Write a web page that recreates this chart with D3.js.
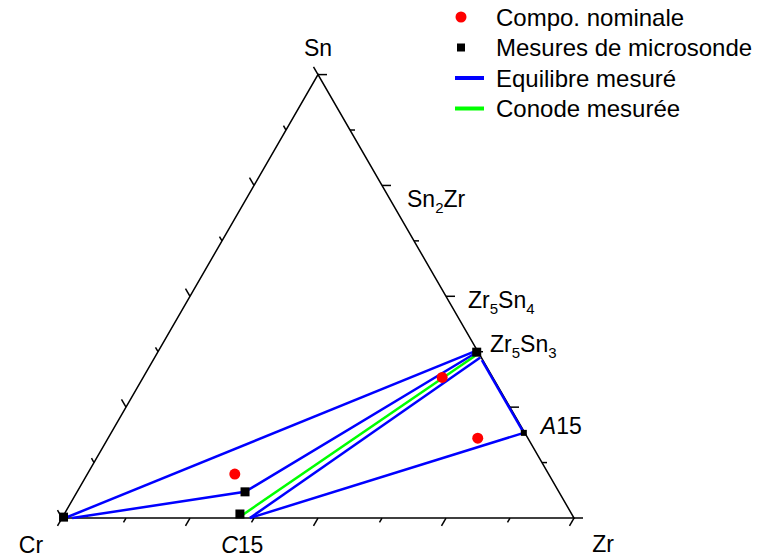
<!DOCTYPE html>
<html><head><meta charset="utf-8">
<script src="https://cdn.jsdelivr.net/npm/d3@7"></script>
<style>body{margin:0;background:#fff}svg{display:block}text{font-family:"Liberation Sans",Arial,sans-serif;fill:#000}</style>
</head><body>
<script>
// Ternary coordinates given as [Zr fraction, Sn fraction] (Cr = remainder)
const vertexNames = ["Cr","Zr","Sn"];
const tickFractions = [0,0.125,0.25,0.375,0.5,0.625,0.75,0.875,1];
const nominal = [ [0.288,0.099], [0.584,0.317], [0.722,0.180] ];
const microprobe = [ [0.002,0.002], [0.343,0.009], [0.328,0.059], [0.623,0.374], [0.806,0.192] ];
const equilibrium = [
  [[0.006,0.0],[0.620,0.377]],
  [[0.020,0.0],[0.328,0.059],[0.622,0.372]],
  [[0.367,0.0],[0.636,0.362]],
  [[0.367,0.0],[0.806,0.192]],
  [[0.642,0.356],[0.806,0.192]]
];
const tieLine = [[0.350,0.008],[0.627,0.370]];
// phase labels placed next to the right-axis tick of given Sn fraction
const phaseNames = [["Sn","2","Zr",""],["Zr","5","Sn","4"],["Zr","5","Sn","3"]];
const phaseSn = [0.75, 0.5, 0.375];
const legendLabels = ["Compo. nominale","Mesures de microsonde","Equilibre mesuré","Conode mesurée"];
const legendTypes = ["circle","square","line","line"];
const legendColors = ["#ff0000","#000000","#0000ff","#00ff00"];

const W=757,H=558;
const svg=d3.select("body").append("svg").attr("width",W).attr("height",H);
const h=Math.sqrt(3)/2;
const xs=d3.scaleLinear().domain([0,1]).range([62,574]);
const ys=d3.scaleLinear().domain([0,h]).range([518,518-512*h]);
const P=(zr,sn)=>[xs(zr+sn/2), ys(sn*h)];

// axes
const g=svg.append("g");
const tri=[P(0,0),P(1,0),P(0,1)];
g.append("path").attr("d","M"+tri.map(p=>p.join(",")).join("L")+"Z")
 .attr("fill","none").attr("stroke","#000").attr("stroke-width",1.5);
function tick(p,dir,len){
  g.append("line").attr("x1",p[0]).attr("y1",p[1]).attr("x2",p[0]+dir[0]*len).attr("y2",p[1]+dir[1]*len)
   .attr("stroke","#000").attr("stroke-width",1.5);
}
tickFractions.forEach((f,i)=>{
  const len = i%2===0 ? 9 : 5;
  tick(P(f,0),[-0.5,0.866],len);          // bottom: Zr
  tick(P(1-f,f),[1,0],len);               // right: Sn
  tick(P(0,1-f),[-0.5,-0.866],len);       // left: Cr
});

// lines
const line=d3.line().x(d=>P(d[0],d[1])[0]).y(d=>P(d[0],d[1])[1]);
equilibrium.forEach(seg=>{
  svg.append("path").attr("d",line(seg)).attr("fill","none").attr("stroke","#0000ff").attr("stroke-width",2.5);
});
svg.append("path").attr("d",line(tieLine)).attr("fill","none").attr("stroke","#00ff00").attr("stroke-width",2.5);

// markers
microprobe.forEach((d,i)=>{
  const p=P(d[0],d[1]); const s = (i===4)?6:9;
  svg.append("rect").attr("x",p[0]-s/2).attr("y",p[1]-s/2).attr("width",s).attr("height",s).attr("fill","#000");
});
nominal.forEach(d=>{
  const p=P(d[0],d[1]);
  svg.append("circle").attr("cx",p[0]).attr("cy",p[1]).attr("r",5.5).attr("fill","#ff0000");
});

// vertex labels
const fs=23;
const vCoords={Cr:[0,0],Zr:[1,0],Sn:[0,1]};
const vOff={Cr:[-31,35],Zr:[29,34],Sn:[0,-19]};
vertexNames.forEach(n=>{
  const p=P(vCoords[n][0],vCoords[n][1]);
  svg.append("text").attr("x",p[0]+vOff[n][0]).attr("y",p[1]+vOff[n][1]).attr("text-anchor","middle")
   .attr("font-size",fs).text(n);
});
// C15 and A15
const c15=P(0.35,0);
const tC=svg.append("text").attr("x",c15[0]-20).attr("y",c15[1]+35).attr("font-size",fs);
tC.append("tspan").attr("font-style","italic").text("C");
tC.append("tspan").text("15");
const a15=P(0.806,0.192);
const tA=svg.append("text").attr("x",a15[0]+17).attr("y",a15[1]+1).attr("font-size",fs);
tA.append("tspan").attr("font-style","italic").text("A");
tA.append("tspan").text("15");

const phaseOff=[[25,22],[22,12],[12,0]];
phaseNames.forEach((n,i)=>{
  const p=P(1-phaseSn[i],phaseSn[i]);
  const t=svg.append("text").attr("x",p[0]+phaseOff[i][0]).attr("y",p[1]+phaseOff[i][1]).attr("font-size",fs);
  t.append("tspan").text(n[0]);
  t.append("tspan").attr("font-size",15).attr("dy",6).text(n[1]);
  t.append("tspan").attr("dy",-6).text(n[2]);
  if(n[3]) t.append("tspan").attr("font-size",15).attr("dy",6).text(n[3]);
});

// legend
const lg=svg.append("g");
legendLabels.forEach((lab,i)=>{
  const y=17+i*30.5, c=legendColors[i], ty=legendTypes[i];
  if(ty==="circle") lg.append("circle").attr("cx",461).attr("cy",y).attr("r",5.5).attr("fill",c);
  else if(ty==="square") lg.append("rect").attr("x",457).attr("y",y-4).attr("width",8).attr("height",8).attr("fill",c);
  else lg.append("line").attr("x1",455).attr("x2",484).attr("y1",y).attr("y2",y).attr("stroke",c).attr("stroke-width",4);
  lg.append("text").attr("x",496).attr("y",y+8.5).attr("font-size",24).text(lab);
});
</script>
</body></html>
